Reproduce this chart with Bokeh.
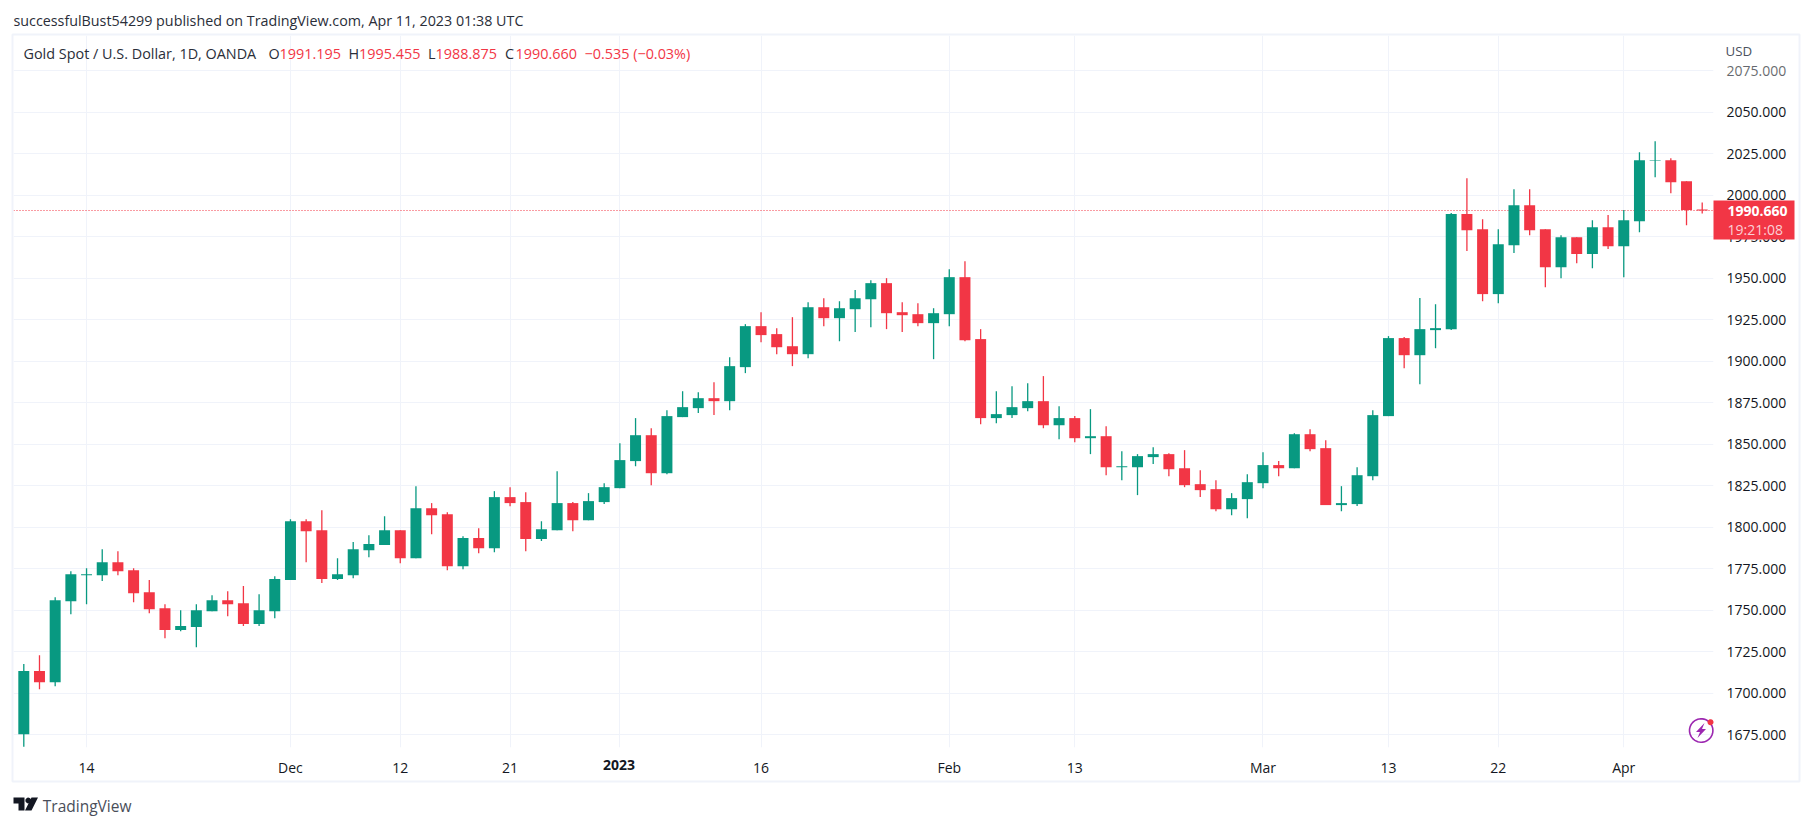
from bokeh.plotting import figure
from bokeh.models import ColumnDataSource, FixedTicker, Label, NumeralTickFormatter, Span
from bokeh.embed import file_html
from bokeh.resources import INLINE
import numpy as np

open_ = [1675.2,1713.2,1706.5,1755.3,1771.0,1771.0,1778.8,1774.0,1760.7,1751.1,1737.9,1739.7,1749.3,1755.9,1754.1,1741.5,1749.3,1768.0,1803.5,1798.1,
 1768.6,1771.0,1786.0,1789.1,1798.1,1781.2,1811.3,1807.7,1776.4,1793.3,1787.2,1818.0,1815.0,1792.7,1798.1,1814.4,1804.1,1815.0,1823.4,1839.7,
 1855.3,1832.4,1866.2,1871.6,1877.6,1875.8,1896.3,1921.0,1916.2,1908.9,1904.1,1932.4,1925.8,1931.2,1937.2,1946.9,1929.4,1928.2,1922.8,1928.2,
 1950.5,1913.2,1865.6,1867.4,1871.6,1875.8,1861.3,1865.6,1853.5,1854.7,1836.0,1836.0,1842.1,1843.9,1835.4,1825.8,1822.8,1810.7,1816.8,1826.4,
 1837.3,1835.4,1855.9,1847.5,1813.2,1813.8,1830.6,1866.8,1913.8,1903.5,1918.6,1919.2,1988.5,1979.4,1940.3,1969.8,1993.9,1979.4,1956.5,1974.6,
 1964.4,1980.6,1969.2,1984.2,2020.6,2021.0,2008.3,1991.195]
high = [1717.4,1722.8,1757.7,1773.4,1775.2,1786.6,1785.4,1775.2,1768.0,1753.5,1749.9,1753.5,1758.9,1761.3,1764.4,1759.5,1770.4,1804.7,1804.7,1810.1,
 1781.2,1790.9,1795.1,1806.5,1798.1,1824.6,1814.4,1808.9,1794.5,1799.3,1821.6,1824.0,1821.0,1803.5,1833.6,1815.0,1820.4,1826.4,1850.5,1865.6,
 1859.5,1870.4,1881.8,1881.2,1887.2,1902.3,1922.2,1929.4,1919.8,1926.4,1935.4,1937.8,1936.0,1942.7,1948.7,1949.9,1935.4,1934.8,1931.8,1955.3,
 1960.1,1919.2,1881.8,1884.8,1886.6,1890.9,1872.8,1866.8,1871.0,1860.7,1845.7,1843.9,1848.1,1844.5,1846.3,1834.2,1828.2,1820.4,1831.8,1845.1,
 1839.7,1856.5,1858.9,1852.3,1824.6,1836.0,1870.4,1915.0,1914.4,1937.9,1934.2,1989.1,2010.1,1985.4,1979.4,2003.5,2003.5,1979.4,1975.8,1974.6,
 1984.8,1987.9,1990.9,2025.8,2032.4,2022.2,2008.3,1995.455]
low = [1667.6,1702.3,1704.1,1747.5,1753.5,1767.4,1771.0,1754.7,1748.1,1733.0,1737.2,1727.6,1749.3,1746.3,1740.3,1740.3,1745.1,1768.0,1778.8,1766.2,
 1768.0,1769.2,1781.8,1789.1,1778.2,1781.2,1795.7,1774.0,1774.6,1784.2,1784.8,1812.5,1785.4,1791.5,1798.1,1797.5,1804.1,1813.8,1823.4,1836.6,
 1825.2,1831.8,1866.2,1868.6,1867.4,1870.4,1892.7,1911.3,1904.1,1896.9,1901.7,1921.0,1911.9,1917.4,1920.4,1919.2,1917.4,1921.0,1901.1,1921.0,
 1911.9,1861.9,1862.5,1865.6,1869.8,1859.5,1852.9,1851.1,1843.9,1831.2,1828.2,1819.2,1837.9,1830.6,1824.0,1818.0,1809.5,1807.1,1805.3,1823.4,
 1830.6,1835.4,1845.7,1813.2,1809.5,1812.6,1828.2,1866.8,1895.7,1886.0,1907.7,1918.6,1966.2,1936.0,1934.8,1965.0,1975.8,1944.5,1949.9,1958.9,
 1955.9,1967.4,1950.5,1977.6,2010.7,2001.1,1981.8,1988.875]
close = [1713.2,1706.5,1755.9,1771.6,1771.6,1778.8,1773.4,1760.1,1750.5,1737.9,1740.3,1749.9,1755.9,1753.5,1741.5,1749.9,1768.6,1803.5,1797.5,1768.6,
 1771.6,1786.6,1789.7,1798.1,1781.2,1811.3,1807.1,1776.4,1793.3,1787.2,1818.0,1814.4,1792.7,1798.7,1814.4,1804.1,1815.6,1824.0,1840.3,1855.3,
 1832.4,1866.8,1872.2,1877.6,1875.8,1896.9,1921.0,1915.6,1908.3,1904.1,1932.4,1925.8,1931.8,1937.8,1946.9,1928.8,1927.6,1922.8,1928.8,1950.5,
 1912.5,1865.6,1868.0,1872.2,1875.8,1861.3,1865.6,1853.5,1854.7,1836.0,1836.6,1842.7,1843.9,1834.8,1825.2,1822.2,1810.7,1817.4,1827.0,1837.3,
 1835.4,1855.9,1846.9,1813.2,1814.4,1831.2,1867.4,1913.8,1903.5,1919.2,1919.8,1988.5,1978.8,1940.3,1970.4,1993.9,1978.8,1956.5,1974.6,1964.4,
 1980.6,1969.2,1984.8,2021.0,2021.0,2007.7,1990.9,1990.66]

price_ticks = list(range(1675, 2076, 25))
date_tick_pos = [4, 17, 24, 31, 38, 47, 59, 67, 79, 87, 94, 102]
date_tick_txt = ["14", "Dec", "12", "21", "", "16", "Feb", "13", "Mar", "13", "22", "Apr"]

GREEN = "#089981"; RED = "#F23645"; GRID = "#f0f3fa"; INK = "#131722"; FONT = "Open Sans"
FL, FT, FR, FB = 13, 35, 1713, 747   # frame edges on the page
W, H = 1805, 818
n = len(close)
x = list(range(n))
src = ColumnDataSource(dict(
    x=x, high=high, low=low,
    top=[max(o, c) for o, c in zip(open_, close)],
    bottom=[min(o, c) for o, c in zip(open_, close)],
    color=[GREEN if c >= o else RED for o, c in zip(open_, close)],
))

p = figure(width=W, height=H, output_backend="svg", toolbar_location=None,
           x_range=((FL - 23.3) / 15.686, (FR - 23.3) / 15.686),
           y_range=(1675 - (FB - 734) / 1.66, 1675 + (734 - FT) / 1.66),
           y_axis_location="right", min_border_left=FL, min_border_right=W - FR,
           min_border_top=FT, min_border_bottom=H - FB,
           background_fill_color="white", border_fill_color="white", margin=(0, 0, 0, 0))
p.outline_line_color = None

p.yaxis.ticker = FixedTicker(ticks=price_ticks)
p.yaxis.formatter = NumeralTickFormatter(format="0.000")
p.xaxis.ticker = FixedTicker(ticks=date_tick_pos)
p.xaxis.major_label_overrides = {k: v for k, v in zip(date_tick_pos, date_tick_txt)}
for ax in (p.xaxis, p.yaxis):
    ax.axis_line_color = None
    ax.major_tick_line_color = None
    ax.minor_tick_line_color = None
    ax.major_tick_in = 0
    ax.major_tick_out = 0
    ax.major_label_text_font = FONT
    ax.major_label_text_font_size = "14px"
    ax.major_label_text_color = INK
p.yaxis.major_label_standoff = 13
p.xaxis.major_label_standoff = 10
p.xgrid.ticker = FixedTicker(ticks=date_tick_pos)
p.ygrid.ticker = FixedTicker(ticks=price_ticks)
p.xgrid.grid_line_color = GRID
p.ygrid.grid_line_color = GRID
p.xgrid.grid_line_width = 1
p.ygrid.grid_line_width = 1

p.segment("x", "low", "x", "high", source=src, color="color", line_width=1.3)
p.vbar("x", 0.7, "bottom", "top", source=src, fill_color="color", line_color=None)
p.add_layout(Span(location=close[-1], dimension="width", line_color=RED, line_width=1, line_dash="1 2", level="underlay"))

# transparent overlay in page pixels for everything that sits outside the plotting frame
q = figure(width=W, height=H, output_backend="svg", toolbar_location=None,
           x_range=(0, W), y_range=(H, 0), x_axis_type=None, y_axis_type=None,
           min_border=0, min_border_left=0, min_border_right=0, min_border_top=0, min_border_bottom=0,
           background_fill_alpha=0, border_fill_alpha=0, margin=(-H, 0, 0, 0))
q.outline_line_color = None
q.grid.visible = False

def label(txt, px, py, size, color=INK, style="normal", align="left"):
    q.add_layout(Label(x=px, y=py, text=txt, text_font=FONT, text_font_size=size, text_color=color,
                       text_font_style=style, text_align=align, text_baseline="middle"))

def poly(xs, ys, fill=None, line=None, lw=1):
    q.patch(list(xs), list(ys), fill_color=fill, fill_alpha=1 if fill else 0,
            line_color=line, line_alpha=1 if line else 0, line_width=lw)

# outer frame
poly([12, 1799, 1799, 12, 12], [34, 34, 781, 781, 34], line=GRID, lw=2)

# header
label("successfulBust54299 published on TradingView.com, Apr 11, 2023 01:38 UTC", 13, 20, "14.3px", "#2a2e39")
label("Gold Spot / U.S. Dollar, 1D, OANDA", 23, 53, "14.4px", "#2a2e39")
for ch, cx, val, vx in [("O", 268, "1991.195", 279), ("H", 348, "1995.455", 358.5),
                        ("L", 427.5, "1988.875", 435), ("C", 504.5, "1990.660", 515)]:
    label(ch, cx, 53, "14.4px", "#2a2e39")
    label(val, vx, 53, "14.4px", RED)
label("\u22120.535 (\u22120.03%)", 584, 53, "14.4px", RED)
label("USD", 1725, 50, "13.3px", "#4c525e")

# 2023 in bold
label("2023", 618.5, 764, "14px", INK, "bold", "center")

# fade of the clipped top label
q.quad(left=1715, right=1790, top=62, bottom=78, fill_color="white", fill_alpha=0.35, line_alpha=0)

# price tag
poly([1713, 1794, 1794, 1713], [200, 200, 239, 239], fill=RED)
label("1990.660", 1727, 210.5, "14px", "white", "bold")
label("19:21:08", 1727, 229, "14px", "#fbd0d6")

# logo and brand
poly([13, 24, 24, 18, 18, 13], [797, 797, 810, 810, 803, 803], fill="#131722")
t = np.linspace(0, 2 * np.pi, 24)
poly(27.8 + 2.9 * np.cos(t), 800 + 2.9 * np.sin(t), fill="#131722")
poly([31, 37.5, 31, 24.5], [797, 797, 810, 810], fill="#131722")
label("TradingView", 42.3, 805, "15.5px", "#4a4e59")

# news icon
t = np.linspace(0, 2 * np.pi, 48)
poly(1700.7 + 11.7 * np.cos(t), 730 + 11.7 * np.sin(t), line="#9c27b0", lw=1.6)
poly([1704, 1695.5, 1699.5, 1697, 1705.5, 1701.5], [722.5, 731.5, 731.5, 737.5, 728.5, 728.5], fill="#9c27b0")
poly(1710 + 3 * np.cos(t), 721.7 + 3 * np.sin(t), fill=RED)

open("out.html", "w").write(file_html([p, q], INLINE))
